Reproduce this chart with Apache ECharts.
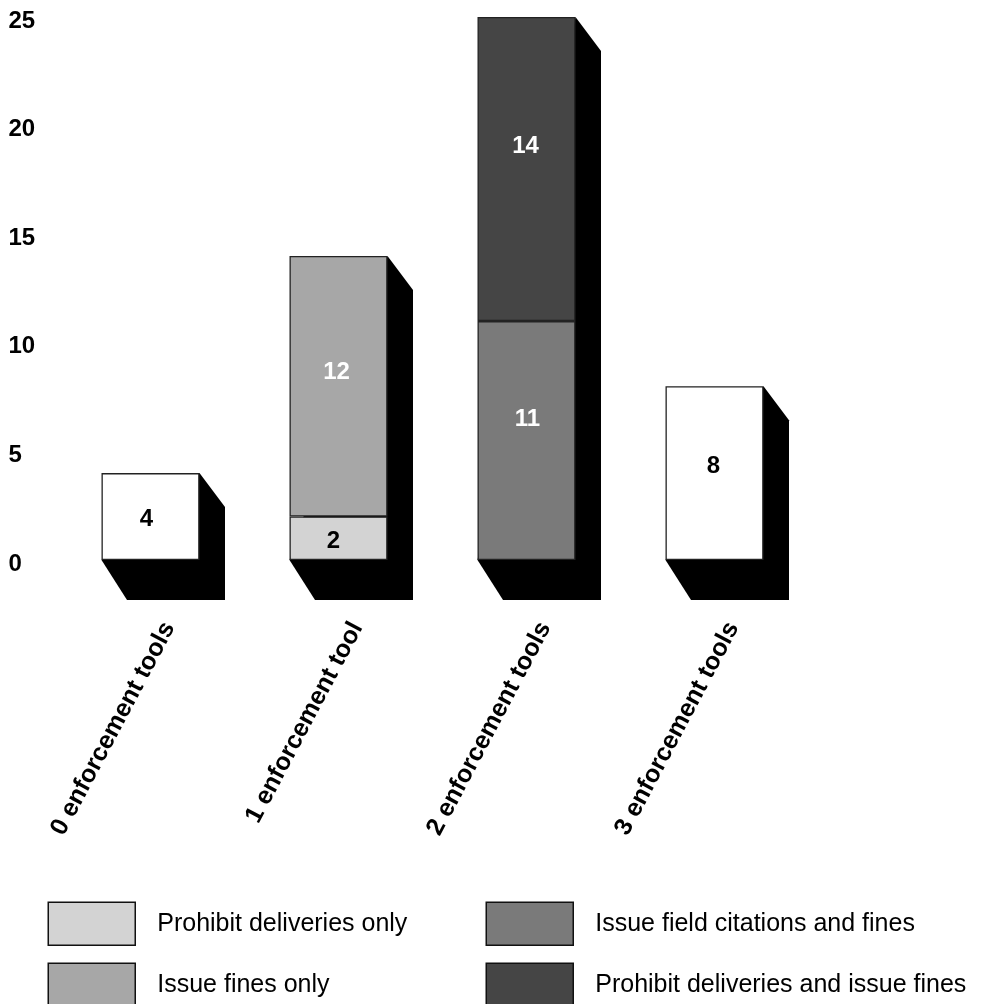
<!DOCTYPE html>
<html><head><meta charset="utf-8">
<style>html,body{margin:0;padding:0;background:#fff}#c{width:988px;height:1004px}</style>
<script src="https://cdn.jsdelivr.net/npm/echarts@6/dist/echarts.min.js"></script>
</head><body><div id="c"></div>
<script>
const categories = ['0 enforcement tools','1 enforcement tool','2 enforcement tools','3 enforcement tools'];
const noTools = [4,null,null,8];
const prohibitOnly = [null,2,null,null];
const finesOnly = [null,12,null,null];
const citations = [null,null,11,null];
const prohibitAndFines = [null,null,14,null];
const totals = [4,14,25,8];
const FONT = '"Liberation Sans", Arial, Helvetica, sans-serif';
const chart = echarts.init(document.getElementById('c'), null, {renderer:'canvas'});
function bar(name, data, color, labelColor, offsets){
  return {name, type:'bar', stack:'t', barWidth:98, z:3,
    data:data.map((v,i)=>v==null?null:{value:v,label:{offset:offsets[i]}}),
    itemStyle:{color, borderColor:'#222', borderWidth:1.3},
    label:{show:true, position:'inside', color:labelColor, fontFamily:FONT, fontWeight:'bold', fontSize:24}};
}
const legendItem = (left, top, name) => ({left, top, padding:0, orient:'vertical', itemWidth:87, itemHeight:43, icon:'rect',
  data:[name], itemStyle:{borderColor:'#111', borderWidth:1.5},
  textStyle:{fontFamily:FONT, fontSize:25, color:'#000', padding:[2,0,0,17]}});
chart.setOption({
  animation:false,
  backgroundColor:'#fff',
  grid:{left:56.5, width:752, top:17, height:543, containLabel:false},
  xAxis:{type:'category', data:categories, axisLine:{show:false}, axisTick:{show:false},
    axisLabel:{rotate:62, margin:54, interval:0, color:'#000', fontFamily:FONT, fontWeight:'bold', fontSize:25, verticalAlign:'top', lineHeight:42}},
  yAxis:{type:'value', min:0, max:25, interval:5, splitLine:{show:false}, axisLine:{show:false}, axisTick:{show:false},
    axisLabel:{align:'left', margin:48, color:'#000', fontFamily:FONT, fontWeight:'bold', fontSize:24, verticalAlign:'top', lineHeight:8}},
  legend:[
    legendItem(47.5, 901.5, 'Prohibit deliveries only'),
    legendItem(47.5, 962.5, 'Issue fines only'),
    legendItem(485.5, 901.5, 'Issue field citations and fines'),
    legendItem(485.5, 962.5, 'Prohibit deliveries and issue fines')
  ],
  series:[
    {type:'custom', name:'depth', z:1, silent:true, data:totals.map((v,i)=>[i,v]),
      renderItem:(params,api)=>{
        const top = api.coord([api.value(0),api.value(1)]);
        const base = api.coord([api.value(0),0]);
        const hw = 49, dx = 25.5, dy = 40;
        const l = top[0]-hw, r = top[0]+hw;
        return {type:'polygon', shape:{points:[[l,base[1]],[l+dx,base[1]+dy],[r+dx,base[1]+dy],[r+dx,top[1]+dy*0.85],[r,top[1]]]},
          style:{fill:'#000'}};
      }},
    bar('No tools', noTools, '#ffffff', '#000', [[-4,3],,,[-1,-7]]),
    bar('Prohibit deliveries only', prohibitOnly, '#d3d3d3', '#000', [,[-5,3]]),
    bar('Issue fines only', finesOnly, '#a7a7a7', '#fff', [,[-2,-14]]),
    bar('Issue field citations and fines', citations, '#7a7a7a', '#fff', [,,[1,-21]]),
    bar('Prohibit deliveries and issue fines', prohibitAndFines, '#454545', '#fff', [,,[-1,-23]])
  ]
});
</script></body></html>
